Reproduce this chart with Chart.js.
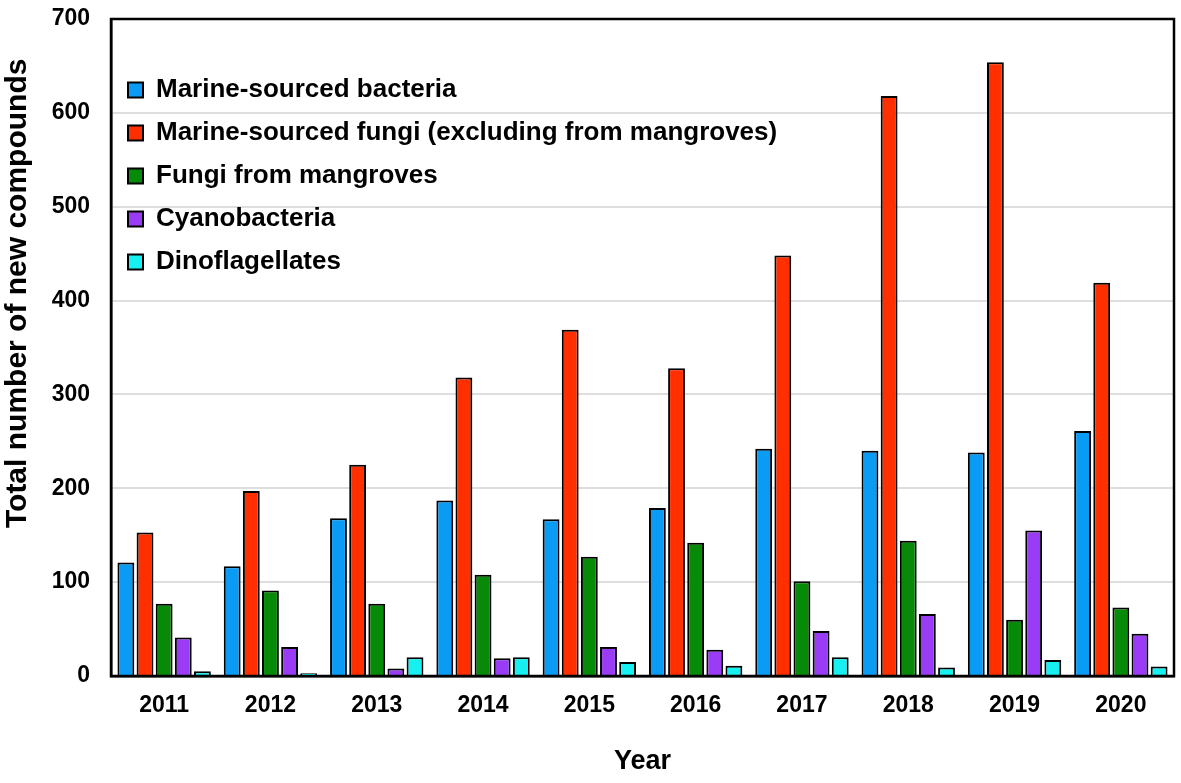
<!DOCTYPE html>
<html>
<head>
<meta charset="utf-8">
<script src="https://cdn.jsdelivr.net/npm/chart.js@4.4.0/dist/chart.umd.min.js"></script>
<style>
  html, body { margin: 0; padding: 0; background: #fff; }
  #wrap { width: 1181px; height: 783px; }
</style>
</head>
<body>
<div id="wrap"><canvas id="chart"></canvas></div>
<script>
var years = ['2011', '2012', '2013', '2014', '2015', '2016', '2017', '2018', '2019', '2020'];

var bacteria = [121, 117, 168, 187, 167, 179, 242, 240, 238, 261];
var fungi = [153, 197, 225, 318, 369, 328, 448, 618, 654, 419];
var mangroveFungi = [77, 91, 77, 108, 127, 142, 101, 144, 60, 73];
var cyanobacteria = [41, 31, 8, 19, 31, 28, 48, 66, 155, 45];
var dinoflagellates = [5, 3, 20, 20, 15, 11, 20, 9, 17, 10];

var seriesNames = [
    'Marine-sourced bacteria',
    'Marine-sourced fungi (excluding from mangroves)',
    'Fungi from mangroves',
    'Cyanobacteria',
    'Dinoflagellates'
];
var seriesColors = ['#0a9cf5', '#ff2f00', '#078a07', '#9a3cf5', '#17f0f0'];
var seriesData = [bacteria, fungi, mangroveFungi, cyanobacteria, dinoflagellates];

var yTicks = [0, 100, 200, 300, 400, 500, 600, 700];

var FONT = 'Liberation Sans, Arial, sans-serif';

var datasets = [];
for (var i = 0; i < seriesNames.length; i++) {
    datasets.push({
        label: seriesNames[i],
        data: seriesData[i],
        backgroundColor: seriesColors[i],
        borderColor: '#000',
        borderWidth: 2,
        borderSkipped: 'bottom'
    });
}

// black frame round the plot area
var frame = {
    id: 'frame',
    afterDatasetsDraw: function(chart) {
        var a = chart.chartArea, c = chart.ctx;
        c.save();
        c.strokeStyle = '#000';
        c.lineWidth = 2.5;
        c.strokeRect(a.left, a.top, a.right - a.left, a.bottom - a.top);
        c.restore();
    }
};

var ctx = document.getElementById('chart').getContext('2d');
var chart = new Chart(ctx, {
    type: 'bar',
    data: {
        labels: years,
        datasets: datasets
    },
    options: {
        responsive: true,
        maintainAspectRatio: false,
        animation: false,
        layout: { padding: { top: 19, right: 7, left: 0, bottom: 0 } },
        datasets: {
            bar: { categoryPercentage: 0.9, barPercentage: 0.88 }
        },
        plugins: {
            tooltip: { enabled: false },
            legend: {
                position: 'chartArea',
                align: 'start',
                title: {
                    display: true,
                    text: ' ',
                    font: { family: FONT, size: 10 },
                    padding: { top: 48, bottom: 0 }
                },
                labels: {
                    color: '#000',
                    font: { family: FONT, size: 26, weight: 'bold' },
                    boxWidth: 15,
                    boxHeight: 15,
                    padding: 17
                }
            }
        },
        scales: {
            x: {
                grid: { display: false, drawTicks: false },
                border: { display: true, color: '#000', width: 2.5 },
                ticks: {
                    color: '#000',
                    font: { family: FONT, size: 23, weight: 'bold' },
                    padding: 16,
                    maxRotation: 0
                },
                title: {
                    display: true,
                    text: 'Year',
                    color: '#000',
                    font: { family: FONT, size: 27, weight: 'bold' },
                    padding: { top: 0, bottom: 5 }
                },
                afterFit: function(scale) { scale.height = 107; }
            },
            y: {
                min: 0,
                max: 700,
                afterBuildTicks: function(scale) {
                    scale.ticks = yTicks.map(function(v) { return { value: v }; });
                },
                grid: { color: '#dedede', lineWidth: 2, drawTicks: false },
                border: { display: true, color: '#000', width: 2.5 },
                ticks: {
                    color: '#000',
                    font: { family: FONT, size: 23, weight: 'bold' },
                    padding: 21
                },
                title: {
                    display: true,
                    // leading spaces lift the title above the middle, as in the original
                    text: '             Total number of new compounds',
                    color: '#000',
                    font: { family: FONT, size: 30, weight: 'bold' },
                    padding: { top: 0, bottom: 0 }
                },
                afterFit: function(scale) {
                    scale.width = 111;
                    scale.paddingTop = 0;
                }
            }
        }
    },
    plugins: [frame]
});
</script>
</body>
</html>
